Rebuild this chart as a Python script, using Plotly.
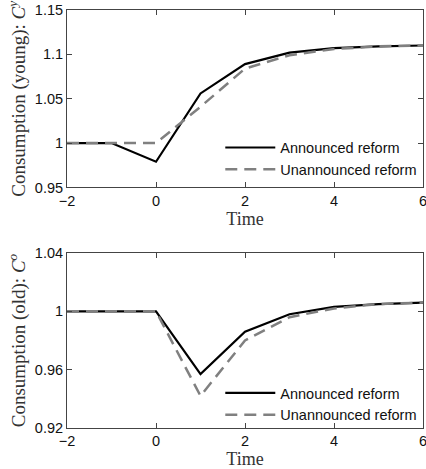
import plotly.graph_objects as go
from plotly.subplots import make_subplots

time = [-2, -1, 0, 1, 2, 3, 4, 5, 6]
young_announced = [1.0, 1.0, 0.979, 1.056, 1.089, 1.102, 1.107, 1.109, 1.110]
young_unannounced = [1.0, 1.0, 1.0, 1.041, 1.084, 1.099, 1.106, 1.109, 1.110]
old_announced = [1.0, 1.0, 1.0, 0.957, 0.986, 0.998, 1.003, 1.005, 1.006]
old_unannounced = [1.0, 1.0, 1.0, 0.942, 0.980, 0.996, 1.002, 1.005, 1.006]

x_ticks = [-2, 0, 2, 4, 6]
x_tick_text = ["\u22122", "0", "2", "4", "6"]
young_ticks = [0.95, 1.0, 1.05, 1.1, 1.15]
young_tick_text = ["0.95", "1", "1.05", "1.1", "1.15"]
old_ticks = [0.92, 0.96, 1.0, 1.04]
old_tick_text = ["0.92", "0.96", "1", "1.04"]

names = ["Announced reform", "Unannounced reform"]

fig = make_subplots(rows=2, cols=1)

solid = dict(color="black", width=2.2)
dashed = dict(color="#808080", width=2.5, dash="12px,7px")

fig.add_trace(go.Scatter(x=time, y=young_announced, mode="lines", line=solid,
                         name=names[0], legend="legend"), row=1, col=1)
fig.add_trace(go.Scatter(x=time, y=young_unannounced, mode="lines", line=dashed,
                         name=names[1], legend="legend"), row=1, col=1)
fig.add_trace(go.Scatter(x=time, y=old_announced, mode="lines", line=solid,
                         name=names[0], legend="legend2"), row=2, col=1)
fig.add_trace(go.Scatter(x=time, y=old_unannounced, mode="lines", line=dashed,
                         name=names[1], legend="legend2"), row=2, col=1)

sans = "Liberation Sans, Arial, sans-serif"
tickfont = dict(family=sans, size=14.5, color="#111")
titlefont = dict(family="Liberation Serif, Times New Roman, serif", size=18, color="#333")
ytitlefont = dict(family="Liberation Serif, Times New Roman, serif", size=19, color="#333")
axis_common = dict(showline=True, linecolor="#444", linewidth=1, mirror="ticks",
                   ticks="inside", ticklen=5, tickcolor="#444", showgrid=False,
                   zeroline=False, tickfont=tickfont, automargin=False,
                   ticklabeloverflow="allow")

fig.update_xaxes(range=[-2, 6], tickvals=x_ticks, ticktext=x_tick_text,
                 title=dict(text="Time", font=titlefont, standoff=0), **axis_common)
fig.update_yaxes(range=[0.95, 1.15], tickvals=young_ticks, ticktext=young_tick_text,
                 title=dict(text="Consumption (young): <i>C</i><sup><i>y</i></sup>",
                            font=ytitlefont, standoff=4), row=1, col=1, **axis_common)
fig.update_yaxes(range=[0.92, 1.04], tickvals=old_ticks, ticktext=old_tick_text,
                 title=dict(text="Consumption (old): <i>C</i><sup><i>o</i></sup>",
                            font=ytitlefont, standoff=4), row=2, col=1, **axis_common)

fig.update_layout(
    width=426, height=469,
    margin=dict(l=67, r=3, t=10, b=41),
    paper_bgcolor="white", plot_bgcolor="white",
    xaxis=dict(domain=[0, 1]), xaxis2=dict(domain=[0, 1]),
    yaxis=dict(domain=[0.5754, 1.0]),
    yaxis2=dict(domain=[0.0, 0.4187]),
    legend=dict(x=0.998, y=0.580, xanchor="right", yanchor="bottom",
                bgcolor="rgba(0,0,0,0)", font=dict(family=sans, size=14.5, color="#111"),
                itemwidth=50, tracegroupgap=0),
    legend2=dict(x=0.998, y=-0.007, xanchor="right", yanchor="bottom",
                 bgcolor="rgba(0,0,0,0)", font=dict(family=sans, size=14.5, color="#111"),
                 itemwidth=50, tracegroupgap=0),
    showlegend=True,
)

fig.write_html("out.html",
               config={"displayModeBar": False},
               post_script="document.body.style.margin='0';document.body.style.overflow='hidden';")
